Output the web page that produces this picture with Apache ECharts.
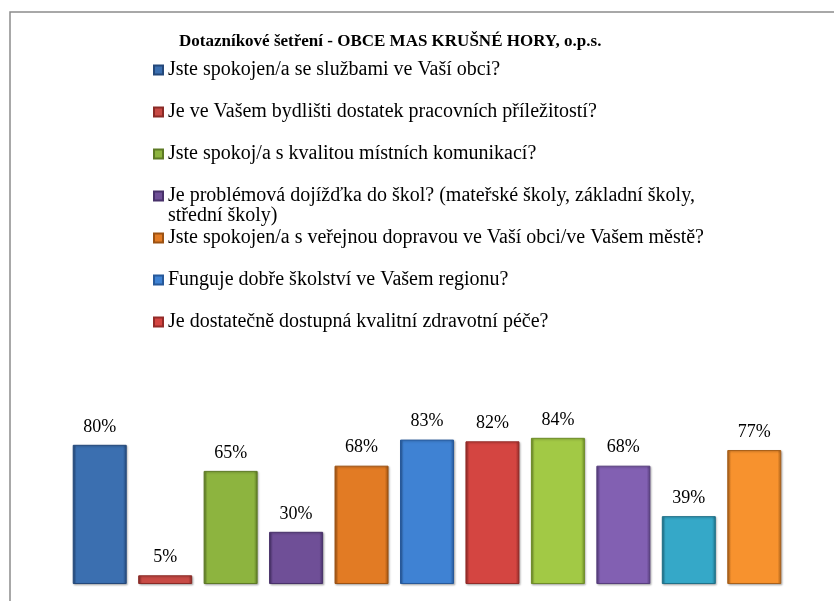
<!DOCTYPE html>
<html>
<head>
<meta charset="utf-8">
<script src="https://cdn.jsdelivr.net/npm/echarts@6/dist/echarts.min.js"></script>
<style>
  html, body { margin: 0; padding: 0; background: #fff; }
  #chart { width: 834px; height: 601px; }
</style>
</head>
<body>
<div id="chart"></div>
<script>
// Názvy otázek (v legendě je vidět jen prvních 7)
const questions = [
  'Jste spokojen/a se službami ve Vaší obci?',
  'Je ve Vašem bydlišti dostatek pracovních příležitostí?',
  'Jste spokoj/a s kvalitou místních komunikací?',
  'Je problémová dojížďka do škol? (mateřské školy, základní školy, střední školy)',
  'Jste spokojen/a s veřejnou dopravou ve Vaší obci/ve Vašem městě?',
  'Funguje dobře školství ve Vašem regionu?',
  'Je dostatečně dostupná kvalitní zdravotní péče?',
  'Otázka 8',
  'Otázka 9',
  'Otázka 10',
  'Otázka 11'
]
const visibleLegend = 7

// Podíl kladných odpovědí (%)
const values = [80, 5, 65, 30, 68, 83, 82, 84, 68, 39, 77]

// barvy sloupců: základ / tmavý okraj
const baseColors = ['#3b6fb0', '#c84a45', '#8db43f', '#6f4f97', '#e27b24', '#3f82d3', '#d44541', '#a2c945', '#8260b2', '#35a8c8', '#f7922e']
const darkColors = ['#24487a', '#8a2a26', '#5d7a25', '#48316a', '#9c5212', '#27599a', '#932b28', '#6e8c28', '#573e7d', '#1f7189', '#a8601a']

const chart = echarts.init(document.getElementById('chart'))

const barFill = (i) => new echarts.graphic.LinearGradient(0, 0, 1, 0, [
  { offset: 0, color: darkColors[i] },
  { offset: 0.07, color: baseColors[i] },
  { offset: 0.93, color: baseColors[i] },
  { offset: 1, color: darkColors[i] }
])

const series = questions.map((name, i) => ({
  name: name,
  type: 'bar',
  stack: 'all',
  barCategoryGap: '17.5%',
  data: values.map((v, j) => (j === i ? v : '-')),
  itemStyle: {
    color: barFill(i),
    borderColor: darkColors[i],
    borderWidth: 1,
    shadowColor: 'rgba(0, 0, 0, 0.25)',
    shadowBlur: 2,
    shadowOffsetX: 1,
    shadowOffsetY: 1
  },
  label: {
    show: true,
    position: 'top',
    distance: 9,
    formatter: '{c}%',
    fontFamily: 'Liberation Serif',
    fontSize: 18,
    color: '#000'
  }
}))

// každá položka legendy má vlastní řádek (jako v Excelu);
// u dvouřádkové položky je ikona zarovnaná k prvnímu řádku
const legendText = { fontFamily: 'Liberation Serif', fontSize: 20, lineHeight: 20, color: '#000' }
const legends = questions.slice(0, visibleLegend).map((name, i) => {
  const wrap = i === 3
  return {
    data: [name],
    left: 148,
    top: 55 + i * 42,
    itemWidth: 9,
    itemHeight: wrap ? 29 : 9,
    icon: wrap ? 'path://M0,0h9v9h-9zM0,29h0' : 'rect',
    itemGap: 0,
    formatter: (n) => (wrap ? n.replace(', střední', ',\nstřední') : n),
    textStyle: legendText
  }
})

const option = {
  animation: false,
  title: {
    text: 'Dotazníkové šetření - OBCE MAS KRUŠNÉ HORY, o.p.s.',
    left: 174,
    top: 28,
    textStyle: {
      fontFamily: 'Liberation Serif',
      fontWeight: 'bold',
      fontSize: 17,
      color: '#000'
    }
  },
  legend: legends,
  graphic: [{
    type: 'rect',
    shape: { x: 10, y: 12, width: 900, height: 700 },
    style: { fill: 'none', stroke: '#8c8c8c', lineWidth: 1.5 },
    silent: true
  }],
  grid: {
    left: 67,
    right: 47,
    top: 410,
    bottom: 17
  },
  xAxis: {
    type: 'category',
    data: questions,
    axisLine: { show: false },
    axisTick: { show: false },
    axisLabel: { show: false }
  },
  yAxis: {
    type: 'value',
    min: 0,
    max: 100,
    show: false,
    splitLine: { show: false }
  },
  series: series
}

chart.setOption(option)
</script>
</body>
</html>
